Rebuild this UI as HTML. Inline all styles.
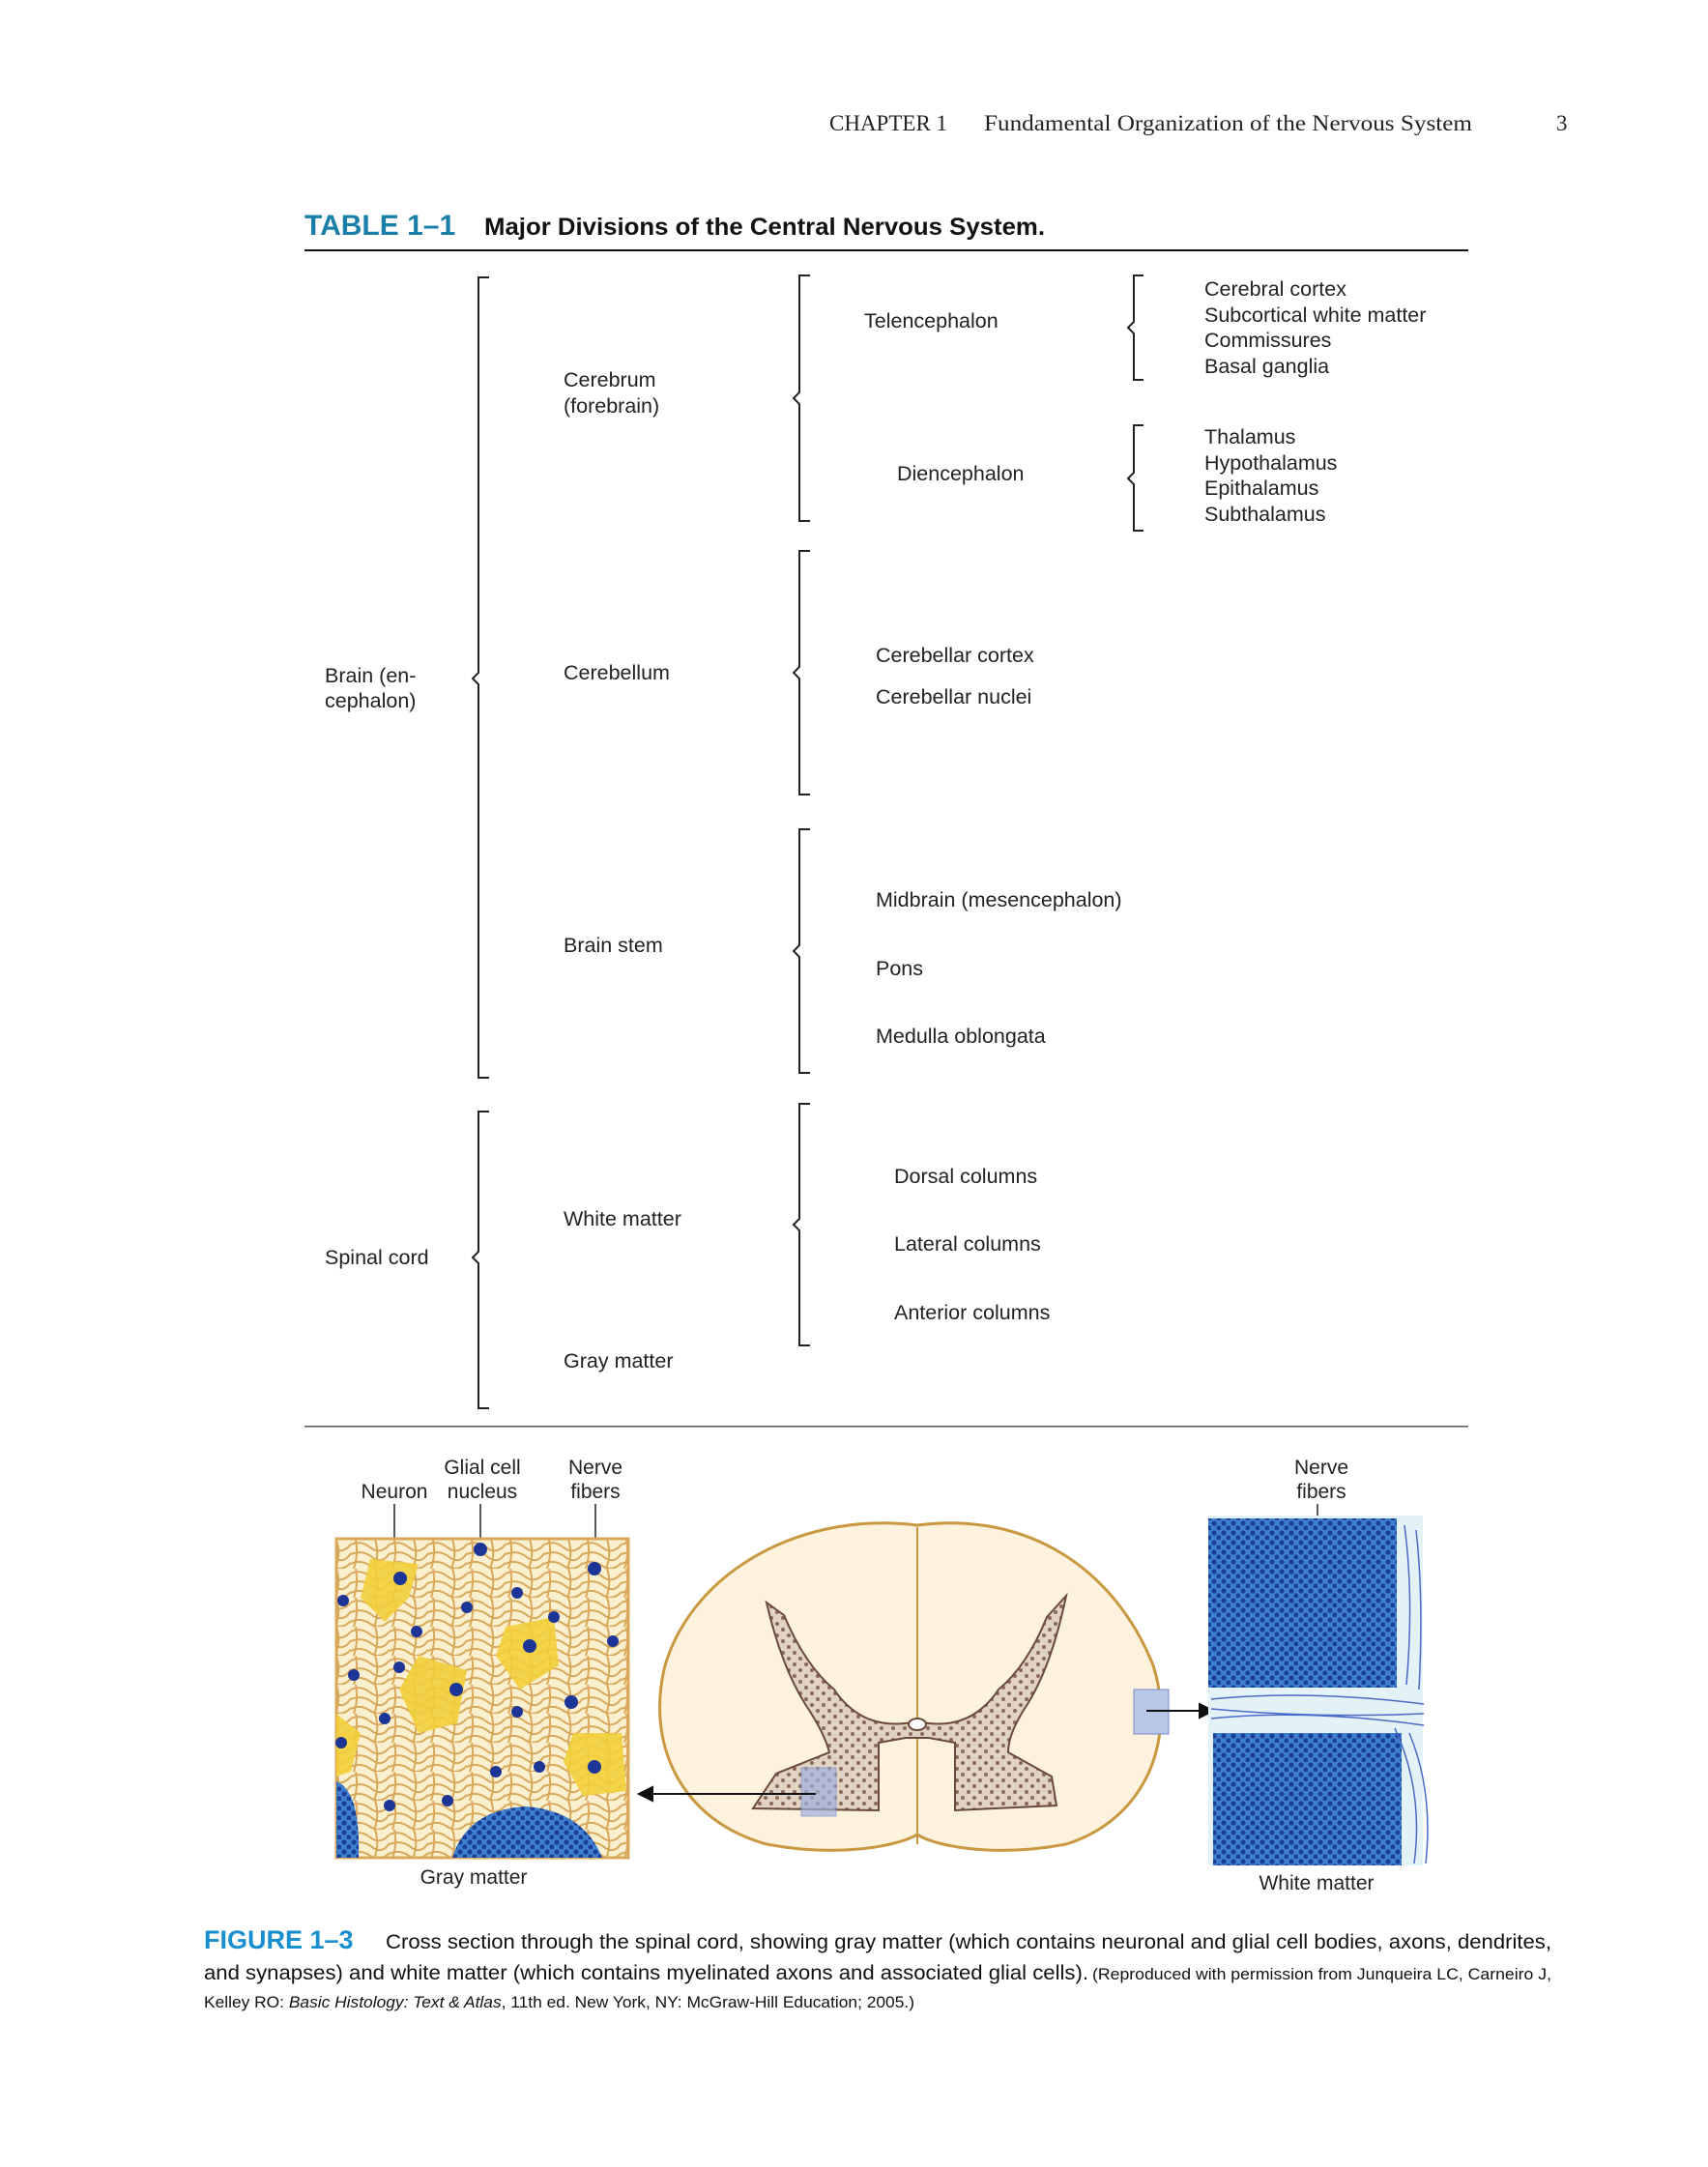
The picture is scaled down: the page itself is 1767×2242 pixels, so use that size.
<!DOCTYPE html>
<html><head><meta charset="utf-8">
<style>
html,body{margin:0;padding:0;background:#fff;}
svg{display:block;}
.t{font-family:"Liberation Sans",sans-serif;font-size:21.5px;fill:#222;}
.f{font-family:"Liberation Sans",sans-serif;font-size:21px;fill:#222;}
</style></head><body>
<svg width="1767" height="2242" viewBox="0 0 1767 2242" xmlns="http://www.w3.org/2000/svg">
<defs>
<pattern id="fib" width="40" height="30" patternUnits="userSpaceOnUse">
<rect width="40" height="30" fill="#faf0d0"/>
<path d="M0 5 Q10 0 20 8 T40 5 M0 15 Q12 10 22 18 T40 14 M0 25 Q10 20 20 27 T40 24 M5 0 Q8 15 3 30 M25 0 Q30 15 24 30" stroke="#d9a85a" stroke-width="2" fill="none"/>
</pattern>
<pattern id="dots" width="12" height="12" patternUnits="userSpaceOnUse">
<rect width="12" height="12" fill="#e2d2c4"/>
<circle cx="3" cy="3" r="2" fill="#8a6a5a"/><circle cx="9" cy="9" r="2" fill="#8a6a5a"/>
</pattern>
<pattern id="wm" width="10" height="10" patternUnits="userSpaceOnUse">
<rect width="10" height="10" fill="#3f7fd0"/>
<circle cx="3" cy="3" r="2.6" fill="#1a3f98"/><circle cx="8" cy="8" r="2.6" fill="#1a3f98"/>
</pattern>
</defs>
<g transform="translate(3,3)">
<!-- header -->
<text x="855" y="132" font-family="Liberation Serif,serif" font-size="23" fill="#222">CHAPTER 1</text>
<text x="1015" y="132" font-family="Liberation Serif,serif" font-size="23" fill="#222" textLength="505" lengthAdjust="spacingAndGlyphs">Fundamental Organization of the Nervous System</text>
<text x="1607" y="132" font-family="Liberation Serif,serif" font-size="23" fill="#222">3</text>

<text x="312" y="240" font-family="Liberation Sans,sans-serif" font-weight="bold" font-size="30" fill="#1a7fa8">TABLE 1–1</text>
<text x="498" y="240" font-family="Liberation Sans,sans-serif" font-weight="bold" font-size="25" fill="#111" textLength="580" lengthAdjust="spacingAndGlyphs">Major Divisions of the Central Nervous System.</text>
<rect x="312" y="255" width="1204" height="2" fill="#111"/>
<rect x="312" y="1472" width="1204" height="1.5" fill="#555"/>

<g stroke="#222" stroke-width="2" fill="none">
<path d="M503 284 H492 V693 L486 699 L492 705 V1112 H503"/>
<path d="M503 1147 H492 V1292 L486 1298 L492 1304 V1454 H503"/>
<path d="M835 282 H824 V403 L818 409 L824 415 V536 H835"/>
<path d="M835 567 H824 V687 L818 693 L824 699 V819 H835"/>
<path d="M835 855 H824 V975 L818 981 L824 987 V1107 H835"/>
<path d="M835 1139 H824 V1258 L818 1264 L824 1270 V1389 H835"/>
<path d="M1180 282 H1170 V330 L1164 336 L1170 342 V390 H1180"/>
<path d="M1180 437 H1170 V486 L1164 492 L1170 498 V546 H1180"/>
</g>

<g class="t">
<text x="333" y="703">Brain (en-</text>
<text x="333" y="729">cephalon)</text>
<text x="333" y="1305">Spinal cord</text>
<text x="580" y="397">Cerebrum</text>
<text x="580" y="424">(forebrain)</text>
<text x="580" y="700">Cerebellum</text>
<text x="580" y="982">Brain stem</text>
<text x="580" y="1265">White matter</text>
<text x="580" y="1412">Gray matter</text>
<text x="891" y="336">Telencephalon</text>
<text x="925" y="494">Diencephalon</text>
<text x="903" y="682">Cerebellar cortex</text>
<text x="903" y="725">Cerebellar nuclei</text>
<text x="903" y="935">Midbrain (mesencephalon)</text>
<text x="903" y="1006">Pons</text>
<text x="903" y="1076">Medulla oblongata</text>
<text x="922" y="1221">Dorsal columns</text>
<text x="922" y="1291">Lateral columns</text>
<text x="922" y="1362">Anterior columns</text>
<text x="1243" y="303">Cerebral cortex</text>
<text x="1243" y="330">Subcortical white matter</text>
<text x="1243" y="356">Commissures</text>
<text x="1243" y="383">Basal ganglia</text>
<text x="1243" y="456">Thalamus</text>
<text x="1243" y="483">Hypothalamus</text>
<text x="1243" y="509">Epithalamus</text>
<text x="1243" y="536">Subthalamus</text>
</g>

<g class="f" text-anchor="middle">
<text x="405" y="1547">Neuron</text>
<text x="496" y="1522">Glial cell</text>
<text x="496" y="1547">nucleus</text>
<text x="613" y="1522">Nerve</text>
<text x="613" y="1547">fibers</text>
<text x="1364" y="1522">Nerve</text>
<text x="1364" y="1547">fibers</text>
<text x="487" y="1946">Gray matter</text>
<text x="1359" y="1952">White matter</text>
</g>
<g stroke="#222" stroke-width="1.5">
<line x1="405" y1="1553" x2="405" y2="1628"/>
<line x1="494" y1="1553" x2="494" y2="1600"/>
<line x1="613" y1="1553" x2="613" y2="1592"/>
<line x1="1360" y1="1553" x2="1360" y2="1592"/>
</g>

<rect x="345" y="1589" width="302" height="330" fill="url(#fib)" stroke="#d9a85a" stroke-width="3"/>
<g fill="#f2cf3a" opacity="0.9">
<path d="M380 1610 L430 1615 L420 1650 L395 1675 L370 1650 Z"/>
<path d="M520 1680 L570 1670 L575 1720 L535 1745 L510 1710 Z"/>
<path d="M430 1710 L480 1725 L470 1780 L430 1790 L410 1745 Z"/>
<path d="M590 1790 L640 1790 L645 1850 L600 1855 L580 1820 Z"/>
<path d="M345 1770 L370 1790 L360 1830 L345 1835 Z"/>
</g>
<g fill="#1d3596">
<circle cx="411" cy="1630" r="7"/><circle cx="494" cy="1600" r="7"/><circle cx="612" cy="1620" r="7"/>
<circle cx="480" cy="1660" r="6"/><circle cx="532" cy="1645" r="6"/><circle cx="352" cy="1653" r="6"/>
<circle cx="428" cy="1685" r="6"/><circle cx="570" cy="1670" r="6"/><circle cx="631" cy="1695" r="6"/>
<circle cx="545" cy="1700" r="7"/><circle cx="363" cy="1730" r="6"/><circle cx="410" cy="1722" r="6"/>
<circle cx="469" cy="1745" r="7"/><circle cx="395" cy="1775" r="6"/><circle cx="588" cy="1758" r="7"/>
<circle cx="532" cy="1768" r="6"/><circle cx="555" cy="1825" r="6"/><circle cx="510" cy="1830" r="6"/>
<circle cx="612" cy="1825" r="7"/><circle cx="400" cy="1865" r="6"/><circle cx="460" cy="1860" r="6"/><circle cx="350" cy="1800" r="6"/>
</g>
<path d="M345 1840 Q370 1850 368 1919 H345 Z" fill="url(#wm)"/>
<path d="M465 1919 Q480 1870 540 1866 Q600 1870 620 1919 Z" fill="url(#wm)"/>

<path d="M946 1575 C1060 1560 1150 1620 1190 1720 C1215 1800 1180 1880 1100 1905 C1020 1920 960 1905 946 1895 C930 1905 870 1920 790 1905 C700 1880 665 1800 685 1720 C715 1620 830 1560 946 1575 Z" fill="#fcf2de" stroke="#c99840" stroke-width="3"/>
<path d="M946 1577 V1895" stroke="#c99840" stroke-width="2"/>
<path d="M790 1655 L808 1668 Q830 1720 860 1745 Q890 1790 946 1778 Q1000 1790 1030 1745 Q1060 1720 1080 1670 L1100 1648 Q1085 1720 1060 1760 Q1040 1790 1040 1810 L1085 1835 L1090 1865 L985 1870 L985 1800 L958 1795 L934 1795 L906 1800 L906 1870 L776 1868 L800 1832 L855 1810 Q850 1790 830 1760 Q805 1720 790 1655 Z" fill="url(#dots)" stroke="#6a4a3a" stroke-width="2"/>
<path d="M946 1800 V1905" stroke="#c99840" stroke-width="2"/>
<ellipse cx="946" cy="1781" rx="9" ry="6" fill="#fff" stroke="#6a4a3a" stroke-width="2"/>
<rect x="826" y="1826" width="36" height="50" fill="#9fb0dd" opacity="0.7" stroke="#7b8cc8"/>
<rect x="1170" y="1745" width="36" height="46" fill="#b8c6e8" stroke="#7b8cc8"/>
<g stroke="#111" stroke-width="2" fill="#111">
<line x1="841" y1="1853" x2="668" y2="1853"/><path d="M658 1853 L672 1846 L672 1860 Z"/>
<line x1="1183" y1="1767" x2="1240" y2="1767"/><path d="M1252 1767 L1238 1760 L1238 1774 Z"/>
</g>

<rect x="1247" y="1565" width="222" height="362" fill="#e2f2f6"/>
<rect x="1247" y="1568" width="195" height="175" fill="url(#wm)"/>
<rect x="1252" y="1790" width="195" height="137" fill="url(#wm)"/>
<g stroke="#4a6ac8" stroke-width="1.5" fill="none">
<path d="M1250 1755 Q1350 1745 1470 1760 M1250 1765 Q1360 1775 1470 1770 M1250 1775 Q1350 1765 1470 1782"/>
<path d="M1450 1575 Q1460 1650 1452 1740 M1462 1580 Q1470 1650 1465 1745 M1440 1785 Q1470 1850 1460 1925 M1455 1790 Q1480 1850 1472 1925"/>
</g>

<text x="208" y="2013" font-family="Liberation Sans,sans-serif" font-weight="bold" font-size="27" fill="#1a8fd0">FIGURE 1–3</text>
<text x="396" y="2013" font-family="Liberation Sans,sans-serif" font-size="21" fill="#111" textLength="1206" lengthAdjust="spacingAndGlyphs">Cross section through the spinal cord, showing gray matter (which contains neuronal and glial cell bodies, axons, dendrites,</text>
<text x="208" y="2045" font-family="Liberation Sans,sans-serif" font-size="21" fill="#111" textLength="915" lengthAdjust="spacingAndGlyphs">and synapses) and white matter (which contains myelinated axons and associated glial cells).</text>
<text x="1127" y="2045" font-family="Liberation Sans,sans-serif" font-size="17" fill="#111" textLength="475" lengthAdjust="spacingAndGlyphs">(Reproduced with permission from Junqueira LC, Carneiro J,</text>
<text x="208" y="2074" font-family="Liberation Sans,sans-serif" font-size="17" fill="#111" textLength="735" lengthAdjust="spacingAndGlyphs">Kelley RO: <tspan font-style="italic">Basic Histology: Text &amp; Atlas</tspan>, 11th ed. New York, NY: McGraw-Hill Education; 2005.)</text>
</g>
</svg>
</body></html>
